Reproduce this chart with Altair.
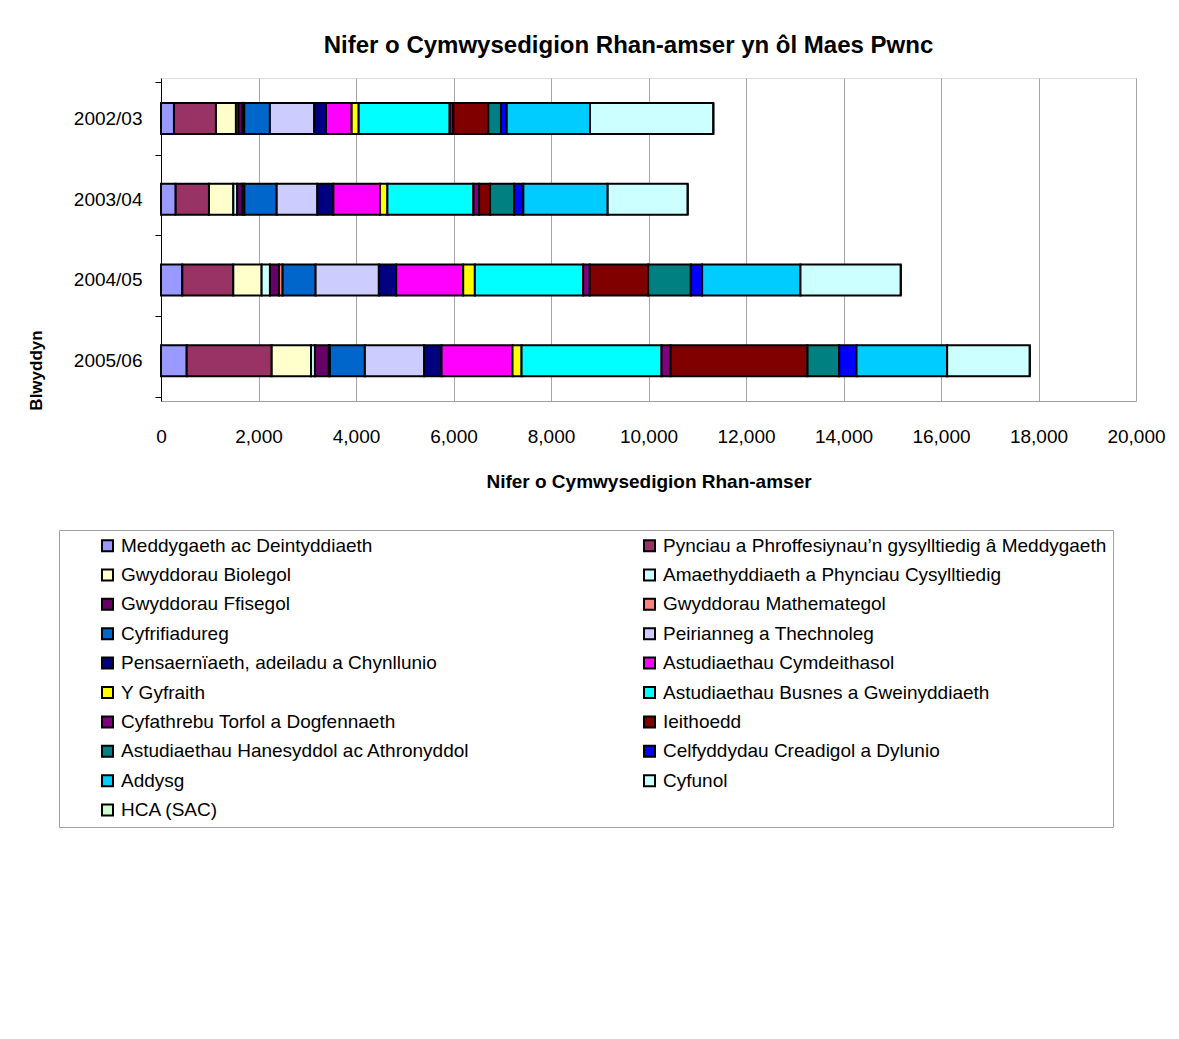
import altair as alt
import pandas as pd

years = ["2002/03", "2003/04", "2004/05", "2005/06"]

subjects = [
    "Meddygaeth ac Deintyddiaeth",
    "Pynciau a Phroffesiynau\u2019n gysylltiedig \u00e2 Meddygaeth",
    "Gwyddorau Biolegol",
    "Amaethyddiaeth a Phynciau Cysylltiedig",
    "Gwyddorau Ffisegol",
    "Gwyddorau Mathemategol",
    "Cyfrifiadureg",
    "Peirianneg a Thechnoleg",
    "Pensaern\u00efaeth, adeiladu a Chynllunio",
    "Astudiaethau Cymdeithasol",
    "Y Gyfraith",
    "Astudiaethau Busnes a Gweinyddiaeth",
    "Cyfathrebu Torfol a Dogfennaeth",
    "Ieithoedd",
    "Astudiaethau Hanesyddol ac Athronyddol",
    "Celfyddydau Creadigol a Dylunio",
    "Addysg",
    "Cyfunol",
    "HCA (SAC)",
]

colors = [
    "#9999FF", "#993366", "#FFFFCC", "#CCFFFF", "#660066", "#FF8080",
    "#0066CC", "#CCCCFF", "#000080", "#FF00FF", "#FFFF00", "#00FFFF",
    "#800080", "#800000", "#008080", "#0000FF", "#00CCFF", "#CCFFFF",
    "#CCFFCC",
]

v_2002_03 = [266, 861, 410, 50, 80, 40, 527, 910, 240, 527, 144, 1866, 75, 718, 260, 117, 1709, 2530, 0]
v_2003_04 = [301, 683, 500, 80, 100, 46, 663, 834, 329, 957, 151, 1764, 117, 225, 492, 191, 1730, 1641, 0]
v_2004_05 = [437, 1046, 581, 171, 185, 75, 676, 1298, 356, 1374, 239, 2222, 137, 1196, 875, 232, 2017, 2058, 0]
v_2005_06 = [527, 1744, 807, 80, 286, 20, 718, 1217, 356, 1456, 185, 2871, 185, 2810, 649, 356, 1859, 1695, 0]

series = [v_2002_03, v_2003_04, v_2004_05, v_2005_06]

rows = []
for year, vals in zip(years, series):
    for i, (s, v) in enumerate(zip(subjects, vals)):
        rows.append({"Blwyddyn": year, "Pwnc": s, "Nifer": v, "idx": i})
df = pd.DataFrame(rows)

# Legend fills column by column: put odd entries first, then even, so the
# two columns read row by row like the original.
legend_order = list(range(0, len(subjects), 2)) + list(range(1, len(subjects), 2))
legend_domain = [subjects[i] for i in legend_order]
legend_range = [colors[i] for i in legend_order]

FONT = "Liberation Sans"

chart = (
    alt.Chart(df)
    .mark_bar(size=31, stroke="black", strokeWidth=2)
    .encode(
        y=alt.Y(
            "Blwyddyn:N",
            sort=years,
            title="Blwyddyn",
            axis=alt.Axis(
                grid=False,
                tickBand="extent",
                tickSize=6,
                tickColor="black",
                domainColor="black",
                labelFontSize=19,
                labelFont=FONT,
                labelColor="black",
                labelPadding=13,
                titleFont=FONT,
                titleFontSize=17,
                titleFontWeight="bold",
                titleColor="black",
                titleAngle=-90,
                titleX=-116,
                titleY=292,
                titleAlign="center",
                titleBaseline="bottom",
            ),
        ),
        x=alt.X(
            "Nifer:Q",
            stack="zero",
            title="Nifer o Cymwysedigion Rhan-amser",
            scale=alt.Scale(domain=[0, 20000], nice=False),
            axis=alt.Axis(
                values=list(range(0, 20001, 2000)),
                format=",d",
                grid=True,
                gridColor="#a6a6a6",
                gridWidth=1,
                ticks=False,
                domainColor="#a0a0a0",
                labelFontSize=19,
                labelFont=FONT,
                labelColor="black",
                labelPadding=26,
                labelFlush=False,
                labelOverlap=False,
                titleFont=FONT,
                titleFontSize=19,
                titleFontWeight="bold",
                titleColor="black",
                titlePadding=26,
            ),
        ),
        color=alt.Color(
            "Pwnc:N",
            scale=alt.Scale(domain=legend_domain, range=legend_range),
            legend=alt.Legend(
                title=None,
                orient="none",
                legendX=-102,
                legendY=452,
                columns=2,
                columnPadding=137,
                rowPadding=9.4,
                padding=6,
                symbolOffset=33,
                symbolType="square",
                symbolSize=121,
                symbolStrokeColor="black",
                symbolStrokeWidth=2,
                labelFont=FONT,
                labelFontSize=19,
                labelColor="black",
                labelLimit=700,
                labelOffset=4,
                strokeColor="#a0a0a0",
                fillColor="white",
            ),
        ),
        order=alt.Order("idx:Q", sort="ascending"),
    )
    .properties(
        width=975,
        height=323,
        padding={"left": 153, "top": 70, "right": 34, "bottom": 560},
        autosize=alt.AutoSizeParams(type="none"),
        title=alt.TitleParams(
            "Nifer o Cymwysedigion Rhan-amser yn \u00f4l Maes Pwnc",
            font=FONT,
            fontSize=24,
            fontWeight="bold",
            color="black",
            anchor="middle",
            dx=-20,
            offset=11,
        ),
    )
    .configure_view(stroke="#a0a0a0", strokeWidth=1.5)
    .configure(background="white")
)

chart.save("out.html", embed_options={"renderer": "svg", "actions": False})
